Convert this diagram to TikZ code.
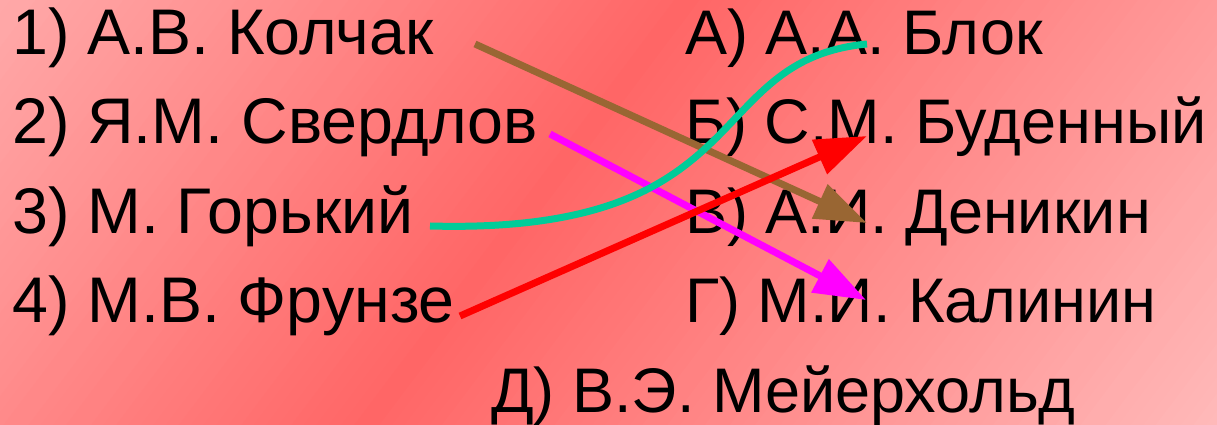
\documentclass[tikz,border=0pt]{standalone}
\usepackage{fontspec}
\setmainfont{Liberation Sans}
\usetikzlibrary{arrows.meta}
\definecolor{bgL}{RGB}{255,188,188}
\definecolor{bgD}{RGB}{255,102,102}
\definecolor{brownA}{RGB}{153,102,51}
\definecolor{greenA}{RGB}{0,204,153}
\definecolor{magA}{RGB}{255,0,255}
\definecolor{redA}{RGB}{255,0,0}
\begin{document}
\begin{tikzpicture}[x=1pt,y=1pt,
  lbl/.style={anchor=base west, inner sep=0pt, text=black, font=\fontsize{63}{75}\selectfont},
  lbll/.style={lbl, font=\fontsize{64.5}{75}\selectfont},
  link/.style={line width=7pt, -{Triangle[length=52pt,width=36pt]}},
  curvelink/.style={line width=7pt}]
\useasboundingbox (0,0) rectangle (1217,425);
\begin{scope}
\clip (0,0) rectangle (1217,425);
\begin{scope}[shift={(525,210)}, rotate=-37]
\foreach \i in {0,...,139} {
  \pgfmathsetmacro\xa{-700+10*\i}
  \pgfmathtruncatemacro\p{min(100,abs(\xa+5)/7)}
  \fill[bgL!\p!bgD] (\xa,-800) rectangle ({\xa+10.8},800);
}
\end{scope}
\end{scope}
% left column
\node[lbll] (l1) at (12,370) {1) А.В. Колчак};
\node[lbll] (l2) at (12,281) {2) Я.М. Свердлов};
\node[lbll] (l3) at (12,191) {3) М. Горький};
\node[lbll] (l4) at (12,102) {4) М.В. Фрунзе};
% right column
\node[lbl] (r1) at (685,370) {А) А.А. Блок};
\node[lbl] (r2) at (685,281) {Б) С.М. Буденный};
\node[lbl] (r3) at (685,191) {В) А.И. Деникин};
\node[lbl] (r4) at (685,102) {Г) М.И. Калинин};
\node[lbl] (r5) at (491,12) {Д) В.Э. Мейерхольд};
% connector ends
\coordinate (s1) at (475,381);
\coordinate (e1) at (867,202);
\coordinate (s2) at (550,291);
\coordinate (e2) at (866,125);
\coordinate (s3) at (430,199);
\coordinate (e3) at (867,381);
\coordinate (s4) at (460,109);
\coordinate (e4) at (867,289);
\draw[link, brownA] (s1) -- (e1);
\draw[link, magA] (s2) -- (e2);
\draw[curvelink, greenA] (s3) .. controls (760,190) and (700,365) .. (e3);
\draw[link, redA] (s4) -- (e4);
\end{tikzpicture}
\end{document}
